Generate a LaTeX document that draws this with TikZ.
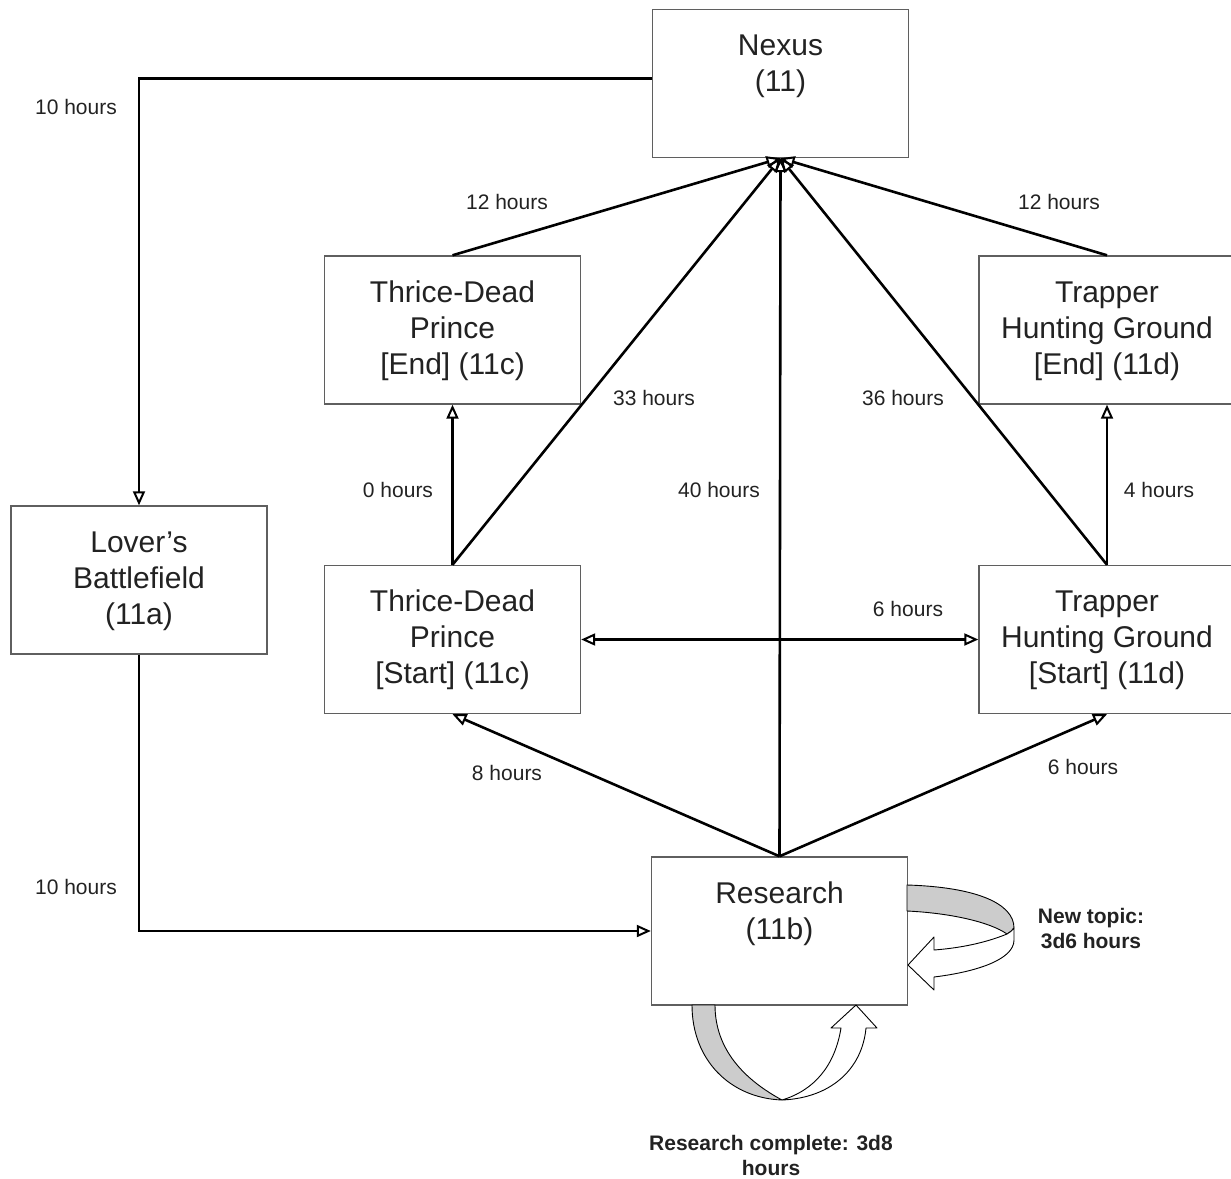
\documentclass[tikz,border=0pt]{standalone}
\usepackage{fontspec}
\setmainfont{Liberation Sans}
\usetikzlibrary{arrows.meta,calc}
\definecolor{boxgray}{HTML}{5F5F5F}
\definecolor{txt}{HTML}{222222}
\definecolor{ribbon}{HTML}{CCCCCC}
\begin{document}
\begin{tikzpicture}[x=1pt,y=-1pt,
 box/.style={draw=boxgray, line width=1.4pt, minimum width=256pt, minimum height=148pt, inner sep=0pt},
 btext/.style={anchor=base, inner sep=0pt, font=\fontsize{30}{36}\selectfont, text=txt},
 lbl/.style={font=\fontsize{21}{25}\selectfont, text=txt, inner sep=0pt},
 blbl/.style={font=\bfseries\fontsize{21}{25}\selectfont, align=center, inner sep=0pt, text=txt},
 conn/.style={line width=2.6pt, -{Triangle[open,length=14pt,width=12pt,line width=2pt]}},
 ribbonline/.style={draw=black, line width=0.9pt, line join=round}
 ]
\useasboundingbox (0,0) rectangle (1231,1178);
\newcommand\boxlabel[2]{\node[btext] (#1-t) at ($(#1.north)+(0,47)$) {\parbox[t]{256pt}{\centering #2}};}

% boxes
\node[box] (nexus) at (780.5,83.5) {};
\node[box] (tdpe) at (452.5,330) {};
\node[box] (tpe) at (1107,330) {};
\node[box] (lover) at (139,580) {};
\node[box] (tdps) at (452.5,639.5) {};
\node[box] (tps) at (1107,639.5) {};
\node[box] (research) at (779.5,931) {};

\boxlabel{nexus}{Nexus\\(11)}
\boxlabel{tdpe}{Thrice-Dead\\Prince\\{[End]} (11c)}
\boxlabel{tpe}{Trapper\\Hunting Ground\\{[End]} (11d)}
\boxlabel{lover}{Lover’s\\Battlefield\\(11a)}
\boxlabel{tdps}{Thrice-Dead\\Prince\\{[Start]} (11c)}
\boxlabel{tps}{Trapper\\Hunting Ground\\{[Start]} (11d)}
\boxlabel{research}{Research\\(11b)}

% connectors
\draw[conn] ([yshift=5pt]nexus.west) -| (lover.north);
\draw[conn] (lover.south) |- (research.west);
\draw[conn] (tdpe.north) -- (nexus.south);
\draw[conn] (tdps.north) -- (nexus.south);
\draw[conn] (research.north) -- (nexus.south);
\draw[conn] (tps.north) -- (nexus.south);
\draw[conn] (tpe.north) -- (nexus.south);
\draw[conn] (tdps.north) -- (tdpe.south);
\draw[conn] (tps.north) -- (tpe.south);
\draw[line width=2.6pt, {Triangle[open,length=14pt,width=12pt,line width=2pt]}-{Triangle[open,length=14pt,width=12pt,line width=2pt]}] (tdps.east) -- (tps.west);
\draw[conn] (research.north) -- (tdps.south);
\draw[conn] (research.north) -- (tps.south);

% labels
\node[lbl] (l1) at (76,107) {10 hours};
\node[lbl] (l2) at (76,887) {10 hours};
\node[lbl] (l3) at (507,202) {12 hours};
\node[lbl] (l4) at (1059,202) {12 hours};
\node[lbl] (l5) at (654,398) {33 hours};
\node[lbl] (l6) at (903,398) {36 hours};
\node[lbl] (l7) at (398,490) {0 hours};
\node[lbl] (l8) at (719,490) {40 hours};
\node[lbl] (l9) at (1159,490) {4 hours};
\node[lbl] (l10) at (908,609) {6 hours};
\node[lbl] (l11) at (507,773) {8 hours};
\node[lbl] (l12) at (1083,767) {6 hours};
\node[blbl] (l13) at (1091,928) {New topic:\\3d6 hours};
\node[blbl] (l14) at (771,1155) {Research complete: 3d8\\hours};

% right curved ribbon arrow (new topic)
\path[ribbonline, fill=ribbon] (907,885) .. controls (975,887) and (1014,903) .. (1014,928)
  .. controls (1012,931) and (1010,932) .. (1007,934)
  .. controls (990,922) and (950,913) .. (907,911) -- cycle;
\path[ribbonline, fill=white] (1007,934) .. controls (985,943) and (960,948) .. (934,950)
  -- (934,937) -- (908,965) -- (934,990) -- (934,977)
  .. controls (975,972) and (1014,960) .. (1014,940) -- (1014,928)
  .. controls (1012,931) and (1010,932) .. (1007,934) -- cycle;

% bottom curved ribbon arrow (research complete)
\path[ribbonline, fill=ribbon] (692,1005) .. controls (692,1060) and (730,1098) .. (782,1100)
  .. controls (745,1080) and (715,1050) .. (715,1005) -- cycle;
\path[ribbonline, fill=white] (782,1100) .. controls (830,1098) and (862,1070) .. (866,1028)
  -- (877,1028) -- (856,1005) -- (831,1028) -- (841,1028)
  .. controls (835,1065) and (815,1090) .. (782,1100) -- cycle;
\end{tikzpicture}
\end{document}
